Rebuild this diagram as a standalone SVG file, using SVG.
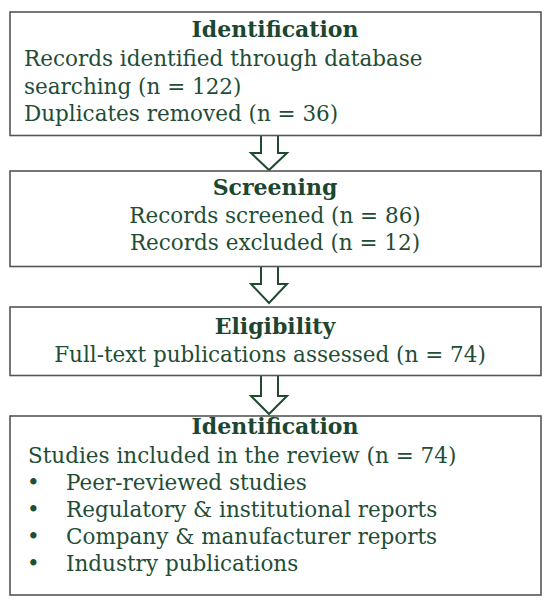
<svg xmlns="http://www.w3.org/2000/svg" width="550" height="609" viewBox="0 0 550 609">
<style>
.box{fill:#fff;stroke:#555;stroke-width:1.6}
.h{font-family:"DejaVu Serif","Liberation Serif",serif;font-weight:bold;font-size:22px;fill:#1b4630;text-anchor:middle}
.t{font-family:"DejaVu Serif","Liberation Serif",serif;font-size:21.5px;fill:#1f4d36}
.c{text-anchor:middle}
.arr{fill:#fff;stroke:#1f4a2f;stroke-width:2;stroke-linejoin:miter}
</style>
<rect width="550" height="609" fill="#fff"/>
<g id="connectors">
<path class="arr" d="M261,136 V153 H251 L269,170 L287,153 H278 V136"/>
<path class="arr" d="M261,267 V284 H251 L269,303 L287,284 H278 V267"/>
<path class="arr" d="M261,376 V396 H251 L269,414 L287,396 H278 V376"/>
</g>
<g id="identification">
<rect class="box" x="10" y="12" width="531" height="123.5"/>
<text class="h" x="275" y="37">Identification</text>
<text class="t" x="24" y="66">Records identified through database</text>
<text class="t" x="24" y="94">searching (n = 122)</text>
<text class="t" x="24" y="121">Duplicates removed (n = 36)</text>
</g>
<g id="screening">
<rect class="box" x="10" y="171" width="531" height="95.5"/>
<text class="h" x="275" y="195">Screening</text>
<text class="t c" x="275" y="223">Records screened (n = 86)</text>
<text class="t c" x="275" y="250">Records excluded (n = 12)</text>
</g>
<g id="eligibility">
<rect class="box" x="10" y="307" width="531" height="68.5"/>
<text class="h" x="275" y="334">Eligibility</text>
<text class="t c" x="270" y="362">Full-text publications assessed (n = 74)</text>
</g>
<g id="included">
<rect class="box" x="10" y="416" width="531" height="179"/>
<text class="h" x="275" y="434">Identification</text>
<text class="t" x="28" y="463">Studies included in the review (n = 74)</text>
<g class="t">
<text x="27" y="490">•</text><text x="66" y="490">Peer-reviewed studies</text>
<text x="27" y="517">•</text><text x="66" y="517">Regulatory &amp; institutional reports</text>
<text x="27" y="544">•</text><text x="66" y="544">Company &amp; manufacturer reports</text>
<text x="27" y="571">•</text><text x="66" y="571">Industry publications</text>
</g>
</g>
</svg>
